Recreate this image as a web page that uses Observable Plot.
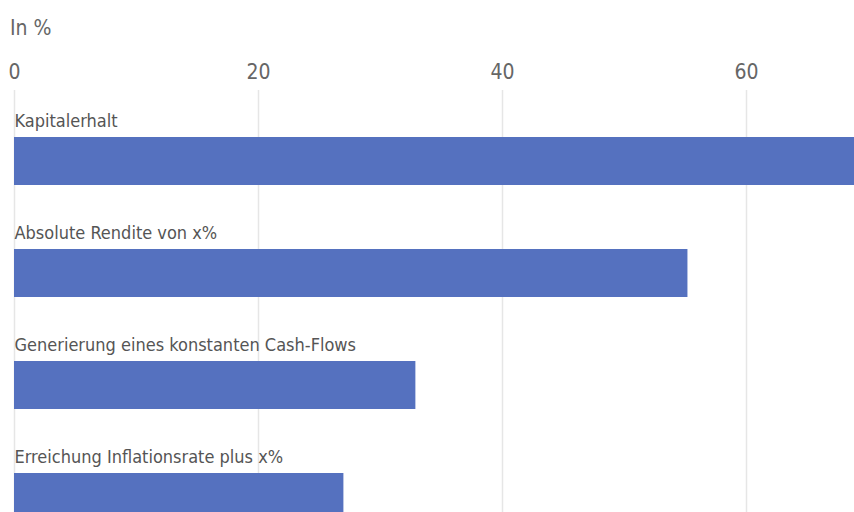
<!DOCTYPE html>
<html>
<head>
<meta charset="utf-8">
<script src="https://cdn.jsdelivr.net/npm/d3@7"></script>
<script src="https://cdn.jsdelivr.net/npm/@observablehq/plot@0.6"></script>
<style>
  html, body { margin: 0; padding: 0; background: #fff; overflow: hidden; }
  body { width: 854px; height: 512px; font-family: "DejaVu Sans Condensed", sans-serif; }
  #sub { height: 50px; box-sizing: border-box; padding: 17px 0 0 10px; font-size: 21px; line-height: 22px; color: #666; }
  #chart svg { display: block; }
</style>
</head>
<body>
<div id="sub">In %</div>
<div id="chart"></div>
<script>
const categories = [
  "Kapitalerhalt",
  "Absolute Rendite von x%",
  "Generierung eines konstanten Cash-Flows",
  "Erreichung Inflationsrate plus x%"
];
const values = [70, 55.2, 32.9, 27.0];
const tickValues = [0, 20, 40, 60];

const data = categories.map((c, i) => ({category: c, value: values[i]}));

const chart = Plot.plot({
  width: 854,
  height: 462,
  marginTop: 40,
  marginLeft: 14,
  marginRight: 0,
  marginBottom: 0,
  style: {fontFamily: '"DejaVu Sans Condensed", sans-serif', background: "#fff", overflow: "hidden"},
  x: {domain: [0, 840 / 12.2], ticks: tickValues, axis: null, label: null},
  y: {type: "band", domain: categories, range: [50, 498], padding: 0, axis: null},
  marks: [
    Plot.gridX(tickValues, {stroke: "#e6e6e6", strokeOpacity: 1, strokeWidth: 1.5}),
    Plot.axisX(tickValues, {anchor: "top", tickSize: 0, tickPadding: 12, fontSize: 21, fill: "#666", label: null, tickFormat: d => String(d)}),
    Plot.barX(data, {x: "value", y: "category", fill: "#5571bf", insetTop: 37, insetBottom: 27}),
    Plot.text(data, {x: 0, y: "category", text: "category", textAnchor: "start", dy: -35, fontSize: 18, fill: "#555"})
  ]
});
document.getElementById("chart").appendChild(chart);
</script>
</body>
</html>
